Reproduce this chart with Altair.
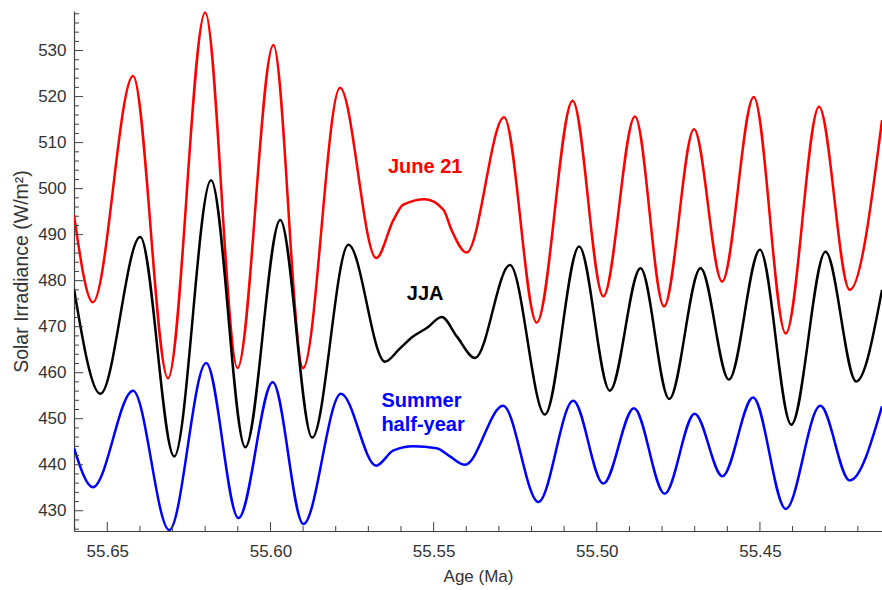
import altair as alt
import pandas as pd

# ---- data ----
red_age = [55.6602, 55.6544, 55.6421, 55.6314, 55.6200, 55.6101, 55.5991, 55.5900, 55.5787,
           55.5676, 55.5623, 55.5593, 55.5526, 55.5470, 55.5445, 55.5399, 55.5284, 55.5184,
           55.5074, 55.4980, 55.4883, 55.4794, 55.4702, 55.4616, 55.4519, 55.4421, 55.4319,
           55.4225, 55.4126]
red_val = [494.3, 475.3, 524.5, 458.8, 538.3, 461.0, 531.2, 461.0, 521.9,
           484.9, 493.2, 496.5, 497.7, 495.4, 491.0, 486.1, 515.5, 470.9,
           519.1, 476.6, 515.7, 474.4, 512.9, 479.8, 519.9, 468.5, 517.8,
           478.0, 514.9]

blk_age = [55.6602, 55.6521, 55.6399, 55.6295, 55.6182, 55.6077, 55.5970, 55.5872, 55.5761,
           55.5649, 55.5603, 55.5562, 55.5521, 55.5475, 55.5429, 55.5373, 55.5266, 55.5159,
           55.5054, 55.4960, 55.4866, 55.4778, 55.4682, 55.4595, 55.4500, 55.4404, 55.4299,
           55.4205, 55.4126]
blk_val = [478.2, 455.4, 489.5, 441.8, 501.8, 443.8, 493.2, 445.9, 487.8,
           462.4, 465.3, 467.9, 469.7, 472.1, 467.9, 463.2, 483.4, 450.9,
           487.4, 456.1, 482.7, 454.3, 482.7, 458.5, 486.7, 448.7, 486.3,
           458.1, 478.0]

blu_age = [55.6602, 55.6544, 55.6421, 55.6310, 55.6197, 55.6098, 55.5993, 55.5899, 55.5784,
           55.5676, 55.5623, 55.5562, 55.5491, 55.5450, 55.5404, 55.5287, 55.5179, 55.5072,
           55.4980, 55.4886, 55.4792, 55.4700, 55.4615, 55.4521, 55.4421, 55.4315, 55.4225,
           55.4126]
blu_val = [443.6, 435.1, 456.1, 425.8, 462.1, 428.4, 457.9, 427.1, 455.4,
           439.8, 443.1, 444.0, 443.6, 441.8, 440.0, 452.8, 431.9, 453.9,
           435.9, 452.3, 433.7, 451.1, 437.5, 454.6, 430.4, 452.8, 436.6,
           452.7]

series_names = ["June 21", "JJA", "Summer half-year"]
series_colors = ["#ff0000", "#000000", "#0000ff"]

x_major = [55.65, 55.60, 55.55, 55.50, 55.45]
x_minor = [55.66, 55.64, 55.63, 55.62, 55.61, 55.59, 55.58, 55.57, 55.56, 55.54, 55.53,
           55.52, 55.51, 55.49, 55.48, 55.47, 55.46, 55.44, 55.43, 55.42]
y_major = [430, 440, 450, 460, 470, 480, 490, 500, 510, 520, 530]
y_minor = [426, 428, 432, 434, 436, 438, 442, 444, 446, 448, 452, 454, 456, 458, 462, 464,
           466, 468, 472, 474, 476, 478, 482, 484, 486, 488, 492, 494, 496, 498, 502, 504,
           506, 508, 512, 514, 516, 518, 522, 524, 526, 528, 532, 534, 536, 538]

label_text = ["June 21", "JJA"]
label_age = [55.5526, 55.5526]
label_val = [503.5, 475.8]
label_color = ["#ff0000", "#000000"]

label2_text = ["Summer", "half-year"]
label2_age = [55.5660, 55.5660]
label2_val = [452.5, 447.3]

X_DOMAIN = [55.4126, 55.6602]
Y_DOMAIN = [425.6, 538.6]

# ---- tables ----
rows = []
for name, ages, vals in zip(series_names, [red_age, blk_age, blu_age], [red_val, blk_val, blu_val]):
    for a, v in zip(ages, vals):
        rows.append({"series": name, "age": a, "val": v})
df = pd.DataFrame(rows)

xs = alt.Scale(domain=X_DOMAIN, reverse=True, nice=False, zero=False)
ys = alt.Scale(domain=Y_DOMAIN, nice=False, zero=False)

AX = "#404040"
FONT = "Liberation Sans"

X_AXIS = alt.Axis(values=x_major, format=".2f", title="Age (Ma)", ticks=False, tickSize=0,
                  labelPadding=12, titlePadding=9, titleFontSize=17, grid=False)
Y_AXIS = alt.Axis(values=y_major, format="d", title="Solar Irradiance (W/m²)", ticks=False,
                  tickSize=0, labelPadding=8, titlePadding=6, titleFontSize=19.5, grid=False)


def X(field):
    return alt.X(field, scale=xs, axis=X_AXIS)


def Y(field):
    return alt.Y(field, scale=ys, axis=Y_AXIS)


lines = alt.Chart(df).mark_line(strokeWidth=2.5, interpolate="monotone", clip=True).encode(
    x=X("age:Q"),
    y=Y("val:Q"),
    color=alt.Color("series:N", scale=alt.Scale(domain=series_names, range=series_colors), legend=None),
    detail="series:N",
)

xmaj = alt.Chart(pd.DataFrame({"age": x_major})).mark_rule(color=AX, strokeWidth=1).encode(
    x=X("age:Q"), y=alt.value(520), y2=alt.value(511))
xmin = alt.Chart(pd.DataFrame({"age": x_minor})).mark_rule(color=AX, strokeWidth=1).encode(
    x=X("age:Q"), y=alt.value(520), y2=alt.value(515))
ymaj = alt.Chart(pd.DataFrame({"val": y_major})).mark_rule(color=AX, strokeWidth=1).encode(
    y=Y("val:Q"), x=alt.value(0), x2=alt.value(9))
ymin = alt.Chart(pd.DataFrame({"val": y_minor})).mark_rule(color=AX, strokeWidth=1).encode(
    y=Y("val:Q"), x=alt.value(0), x2=alt.value(5))

lab1 = alt.Chart(pd.DataFrame({"text": label_text, "age": label_age, "val": label_val,
                               "color": label_color})).mark_text(
    font=FONT, fontSize=20, fontWeight="bold", align="center", baseline="alphabetic").encode(
    x=X("age:Q"), y=Y("val:Q"),
    text="text:N", color=alt.Color("color:N", scale=None))

lab2 = alt.Chart(pd.DataFrame({"text": label2_text, "age": label2_age, "val": label2_val})).mark_text(
    font=FONT, fontSize=20, fontWeight="bold", align="left", baseline="alphabetic", color="#0000ff").encode(
    x=X("age:Q"), y=Y("val:Q"),
    text="text:N")

chart = alt.layer(lines, xmaj, xmin, ymaj, ymin, lab1, lab2).properties(
    width=808, height=520,
    autosize=alt.AutoSizeParams(type="none"),
    padding={"left": 74, "top": 11, "right": 0, "bottom": 59},
).configure_view(stroke=None).configure_axis(
    domainColor=AX, domainWidth=1.2,
    labelFont=FONT, labelFontSize=17, labelColor="#333333",
    titleFont=FONT, titleColor="#333333", titleFontWeight="normal",
)

chart.save("out.html", embed_options={"renderer": "svg", "actions": False})
